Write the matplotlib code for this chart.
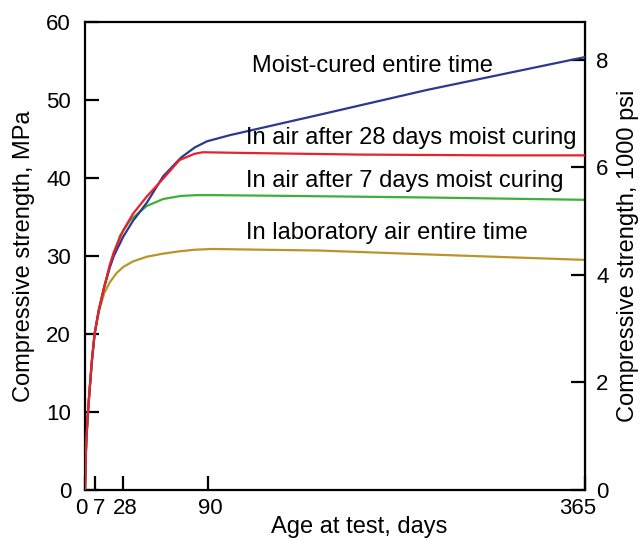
import numpy as np
import matplotlib.pyplot as plt
import matplotlib.transforms as mtransforms

plt.rcParams['font.family'] = ['Liberation Sans', 'DejaVu Sans']

# age at test, days and strength, MPa
days_moist = [0, 0.5, 1, 2, 3, 5, 7, 10, 14, 18, 21, 28, 35, 45, 57, 70, 80, 89, 106, 171, 250, 365]
moist = [0, 4, 6.5, 9.5, 12, 16.5, 20, 23, 26, 28.5, 30, 32.5, 34.5, 36.8, 40.2, 42.6, 43.9, 44.7, 45.5, 48.1, 51.3, 55.5]

days_air28 = [0, 0.5, 1, 2, 3, 5, 7, 10, 14, 18, 21, 28, 35, 45, 57, 69, 80, 86, 120, 200, 300, 365]
air28 = [0, 4, 6.5, 9.5, 12, 16.5, 20, 23, 26, 28.8, 30.5, 33.3, 35.4, 37.6, 39.9, 42.3, 43.1, 43.3, 43.2, 43.0, 42.9, 42.9]

days_air7 = [0, 0.5, 1, 2, 3, 5, 7, 10, 14, 18, 21, 25.5, 33, 45, 57, 70, 81.5, 95, 150, 250, 365]
air7 = [0, 4, 6.5, 9.5, 12, 16.5, 20, 23, 26, 28.5, 30.2, 32.6, 34.6, 36.4, 37.3, 37.7, 37.8, 37.8, 37.7, 37.5, 37.2]

days_lab = [0, 0.5, 1, 2, 3, 5, 7, 10, 14, 18, 23, 28, 35, 45, 57, 69, 80, 93, 130, 171, 250, 365]
lab = [0, 4, 6.5, 9.5, 12, 16.5, 20, 22.8, 25.2, 26.6, 27.8, 28.6, 29.3, 29.9, 30.3, 30.6, 30.8, 30.9, 30.8, 30.7, 30.2, 29.5]

labels = ["Moist-cured entire time",
          "In air after 28 days moist curing",
          "In air after 7 days moist curing",
          "In laboratory air entire time"]
label_x = [122, 117.5, 117.5, 117.5]
label_y = [54.4, 45.1, 39.6, 32.9]

xticks = [0, 7, 28, 90, 365]
xticklabels = ['0', '7', '28', '90', '365']
yticks = [0, 10, 20, 30, 40, 50, 60]
psi_ticks = [0, 2, 4, 6, 8]
MPA_PER_KSI = 6.895

fig = plt.figure(figsize=(6.41, 5.4), dpi=100)
ax = fig.add_axes([0.1326, 0.0926, 0.78, 0.8667])

ax.plot(days_moist, moist, color='#2b3990', lw=1.6, zorder=3)
ax.plot(days_air7, air7, color='#3fae3a', lw=1.6, zorder=2)
ax.plot(days_lab, lab, color='#b9952a', lw=1.6, zorder=2)
ax.plot(days_air28, air28, color='#e8212b', lw=1.6, zorder=4)

for t, x, y in zip(labels, label_x, label_y):
    ax.text(x, y, t, fontsize=17, va='center', ha='left')

ax.set_xlim(0, 365)
ax.set_ylim(0, 60)
ax.set_xticks(xticks)
ax.set_xticklabels(xticklabels)
ax.set_yticks(yticks)
ax.tick_params(direction='in', length=10, width=1.6, labelsize=16)
ax.tick_params(axis='y', pad=10)
ax.tick_params(axis='x', pad=6)
for s in ax.spines.values():
    s.set_linewidth(1.6)

# nudge crowded tick labels apart, as in the original drawing
shifts = [-4, 4, 2, 2, -7]
for lab_t, dx in zip(ax.get_xticklabels(), shifts):
    lab_t.set_transform(lab_t.get_transform() +
                        mtransforms.ScaledTranslation(dx / 100, 0, fig.dpi_scale_trans))

ax.set_xlabel('Age at test, days', fontsize=17)
ax.xaxis.set_label_coords(0.549, -0.055)
ax.set_ylabel('Compressive strength, MPa', fontsize=17, labelpad=8)

sec = ax.secondary_yaxis('right', functions=(lambda m: m / MPA_PER_KSI,
                                              lambda k: k * MPA_PER_KSI))
sec.set_yticks(psi_ticks)
sec.tick_params(direction='in', length=10, width=1.6, labelsize=16, pad=8)
sec.set_ylabel('Compressive strength, 1000 psi', fontsize=17, labelpad=6)

plt.savefig('out.png', dpi=100)
